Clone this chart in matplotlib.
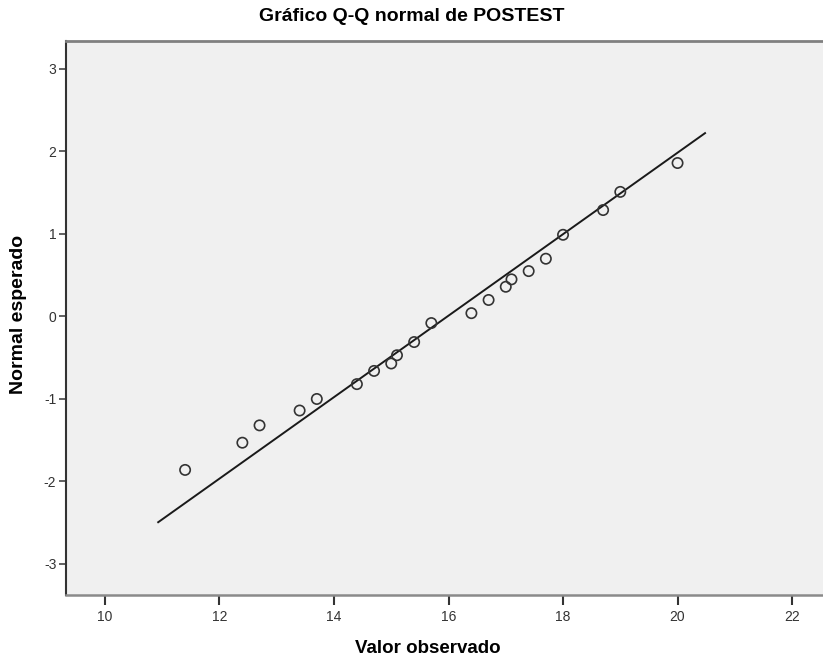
import numpy as np
import matplotlib
matplotlib.use("Agg")
import matplotlib.pyplot as plt

plt.rcParams['font.family'] = ['Liberation Sans', 'DejaVu Sans']
plt.rcParams['axes.unicode_minus'] = False

observado = [11.4, 12.4, 12.7, 13.4, 13.7, 14.4, 14.7, 15.0, 15.1, 15.4, 15.7,
             16.4, 16.7, 17.0, 17.1, 17.4, 17.7, 18.0, 18.7, 19.0, 20.0]
esperado = [-1.86, -1.53, -1.32, -1.14, -1.00, -0.82, -0.66, -0.57, -0.47, -0.31, -0.08,
            0.04, 0.20, 0.36, 0.45, 0.55, 0.70, 0.99, 1.29, 1.51, 1.86]

# reference line: y = (x - media) / desv
media = 15.98
desv = 2.025
linea_x = [10.93, 20.48]

xticks = [10, 12, 14, 16, 18, 20, 22]
yticks = [-3, -2, -1, 0, 1, 2, 3]

fig = plt.figure(figsize=(8.23, 6.56), dpi=100)
ax = fig.add_axes([0.0802, 0.093, 0.9198, 0.8445])
ax.set_facecolor('#f0f0f0')

lx = np.array(linea_x)
ax.plot(lx, (lx - media) / desv, color='#1a1a1a', lw=1.4, zorder=2)
ax.scatter(observado, esperado, s=55, facecolors='none', edgecolors='#333333',
           linewidths=1.2, zorder=3)

ax.set_xlim(9.32, 22.54)
ax.set_ylim(-3.376, 3.339)
ax.set_xticks(xticks)
ax.set_yticks(yticks)

ax.spines['right'].set_visible(False)
ax.spines['top'].set_color('#808080')
ax.spines['top'].set_linewidth(2)
ax.spines['left'].set_color('#333333')
ax.spines['left'].set_linewidth(1.5)
ax.spines['bottom'].set_color('#8a8a8a')
ax.spines['bottom'].set_linewidth(1.8)

ax.tick_params(axis='x', direction='out', length=7, width=1.5, color='#333333',
               labelsize=10, labelcolor='#333333', pad=4)
ax.tick_params(axis='y', direction='out', length=5, width=1.3, color='#555555',
               labelsize=10, labelcolor='#333333', pad=2)

fig.text(0.50, 0.975, 'Gráfico Q-Q normal de POSTEST', ha='center', va='center',
         fontsize=14, fontweight='bold')
fig.text(0.52, 0.012, 'Valor observado', ha='center', va='center',
         fontsize=13.5, fontweight='bold')
fig.text(0.022, 0.52, 'Normal esperado', ha='center', va='center', rotation=90,
         fontsize=14, fontweight='bold')

fig.savefig('out.png', dpi=100, facecolor='white')
